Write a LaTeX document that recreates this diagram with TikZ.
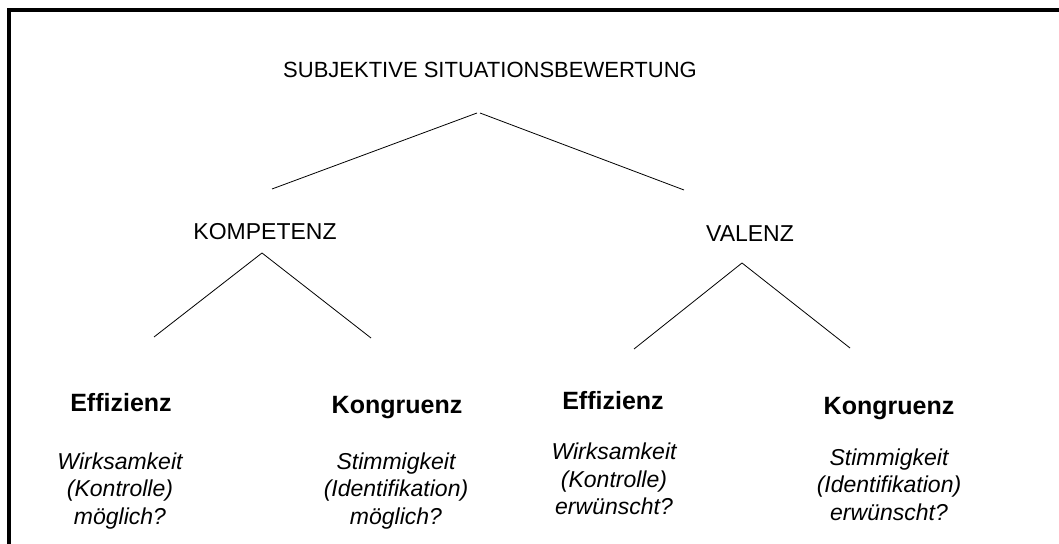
\documentclass[tikz,border=0pt]{standalone}
\usepackage{fontspec}
\setmainfont{Liberation Sans}
\begin{document}
\begin{tikzpicture}[x=1pt,y=1pt,
  frame/.style={line width=3.5pt, line cap=rect},
  branch/.style={line width=0.8pt},
  title/.style={inner sep=0pt, anchor=base, font=\fontsize{22}{26}\selectfont},
  level/.style={inner sep=0pt, anchor=base, font=\fontsize{23}{27}\selectfont},
  head/.style={inner sep=0pt, anchor=base, font=\fontsize{25}{29}\selectfont\bfseries},
  desc/.style={inner sep=0pt, anchor=base, font=\fontsize{23}{27}\selectfont\itshape}]
\useasboundingbox (0,0) rectangle (1059,543);
% frame (cropped: only left and top edges visible)
\coordinate (fb) at (9,-5);
\coordinate (fc) at (9,533);
\coordinate (fr) at (1065,533);
\draw[frame] (fb) -- (fc) -- (fr);

% labels
\node[title] (root) at (490,465) {SUBJEKTIVE SITUATIONSBEWERTUNG};
\node[level] (komp) at (265,303) {KOMPETENZ};
\node[level] (val) at (750,301) {VALENZ};

\node[head] (eff1) at (121,131) {Effizienz};
\node[head] (kon1) at (397,129) {Kongruenz};
\node[head] (eff2) at (613,133) {Effizienz};
\node[head] (kon2) at (889,128) {Kongruenz};

\node[desc] (eff1a) at (120,73) {Wirksamkeit};
\node[desc] (eff1b) at (120,46) {(Kontrolle)};
\node[desc] (eff1c) at (120,19) {möglich?};

\node[desc] (kon1a) at (396,73) {Stimmigkeit};
\node[desc] (kon1b) at (396,46) {(Identifikation)};
\node[desc] (kon1c) at (396,19) {möglich?};

\node[desc] (eff2a) at (614,83) {Wirksamkeit};
\node[desc] (eff2b) at (614,56) {(Kontrolle)};
\node[desc] (eff2c) at (614,29) {erwünscht?};

\node[desc] (kon2a) at (889,77) {Stimmigkeit};
\node[desc] (kon2b) at (889,50) {(Identifikation)};
\node[desc] (kon2c) at (889,23) {erwünscht?};

% branch end points
\coordinate (rootL) at (477,430);
\coordinate (rootR) at (480,430);
\coordinate (kompTop) at (272,354);
\coordinate (valTop) at (684,353);
\coordinate (kompApex) at (262,290);
\coordinate (kompL) at (154,206);
\coordinate (kompR) at (371,205);
\coordinate (valApex) at (742,280);
\coordinate (valL) at (634,194);
\coordinate (valR) at (850,195);

\draw[branch] (rootL) -- (kompTop);
\draw[branch] (rootR) -- (valTop);
\draw[branch] (kompApex) -- (kompL);
\draw[branch] (kompApex) -- (kompR);
\draw[branch] (valApex) -- (valL);
\draw[branch] (valApex) -- (valR);
\end{tikzpicture}
\end{document}
